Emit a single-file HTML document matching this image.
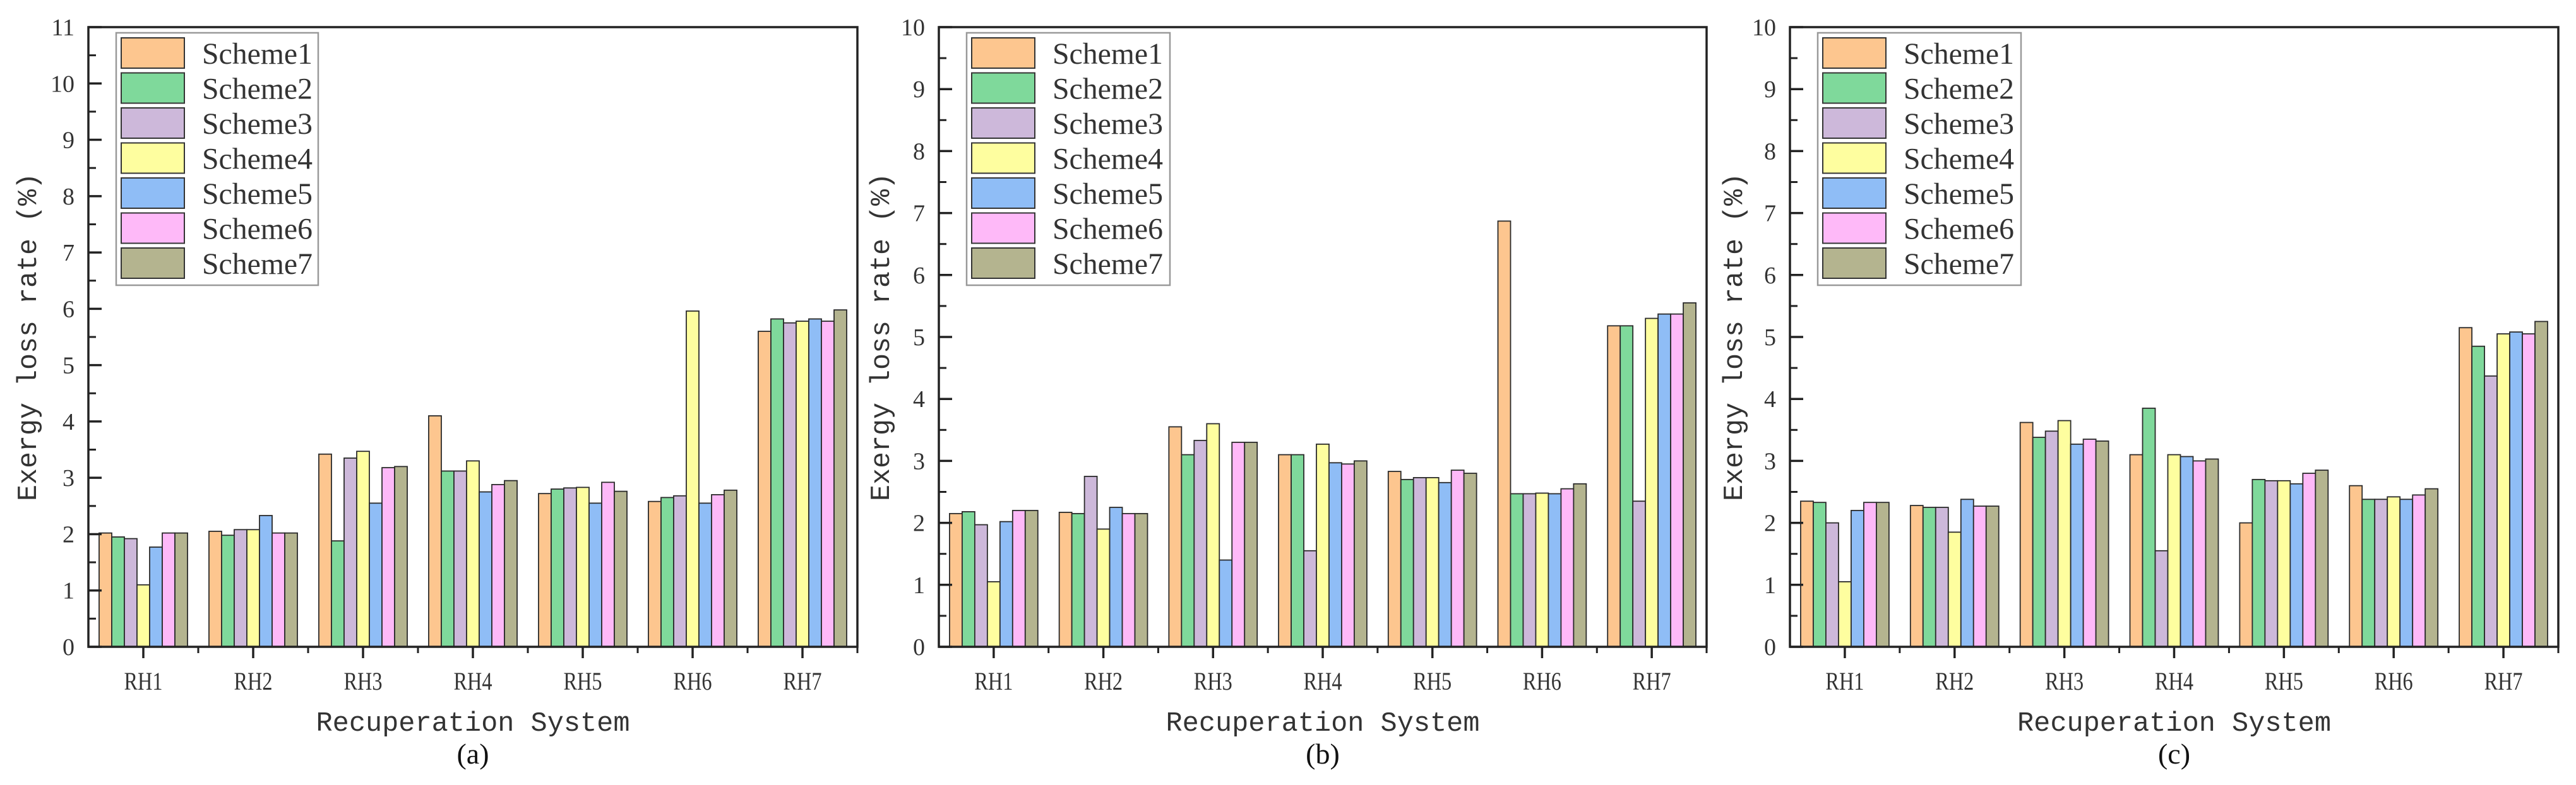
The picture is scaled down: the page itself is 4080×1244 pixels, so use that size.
<!DOCTYPE html>
<html><head><meta charset="utf-8"><style>
html,body{margin:0;padding:0;background:#fff;}
svg{display:block;}
</style></head><body>
<svg id="fig" width="4080" height="1244" viewBox="0 0 4080 1244" xmlns="http://www.w3.org/2000/svg"></svg>
<script>
const categories = ["RH1","RH2","RH3","RH4","RH5","RH6","RH7"];
const seriesNames = ["Scheme1","Scheme2","Scheme3","Scheme4","Scheme5","Scheme6","Scheme7"];
const dataA = [
 [2.02,1.95,1.92,1.10,1.77,2.02,2.02],
 [2.05,1.98,2.08,2.08,2.33,2.02,2.02],
 [3.42,1.88,3.35,3.47,2.55,3.18,3.20],
 [4.10,3.12,3.12,3.30,2.75,2.88,2.95],
 [2.72,2.80,2.82,2.83,2.55,2.92,2.76],
 [2.58,2.65,2.68,5.96,2.55,2.70,2.78],
 [5.60,5.82,5.75,5.78,5.82,5.78,5.98]
];
const dataB = [
 [2.15,2.18,1.97,1.05,2.02,2.20,2.20],
 [2.17,2.15,2.75,1.90,2.25,2.15,2.15],
 [3.55,3.10,3.33,3.60,1.40,3.30,3.30],
 [3.10,3.10,1.55,3.27,2.97,2.95,3.00],
 [2.83,2.70,2.73,2.73,2.65,2.85,2.80],
 [6.87,2.47,2.47,2.48,2.47,2.55,2.63],
 [5.18,5.18,2.35,5.30,5.37,5.37,5.55]
];
const dataC = [
 [2.35,2.33,2.00,1.05,2.20,2.33,2.33],
 [2.28,2.25,2.25,1.85,2.38,2.27,2.27],
 [3.62,3.38,3.48,3.65,3.27,3.35,3.32],
 [3.10,3.85,1.55,3.10,3.07,3.00,3.03],
 [2.00,2.70,2.68,2.68,2.63,2.80,2.85],
 [2.60,2.38,2.38,2.42,2.38,2.45,2.55],
 [5.15,4.85,4.37,5.05,5.08,5.05,5.25]
];
const yMaxA = 11, yMaxB = 10, yMaxC = 10;
const colors = ["#fdc68f","#7fd99b","#cdb8da","#fefe9f","#8fbdf6","#feb9f8","#b4b48f"];

const NS = "http://www.w3.org/2000/svg";
const svg = document.getElementById("fig");
function mk(tag, attrs, parent){const e=document.createElementNS(NS,tag);for(const k in attrs)e.setAttribute(k,attrs[k]);(parent||svg).appendChild(e);return e;}

function panel(key, data, yMax, L, R, legX, legW, titleX, label){
  const T=43, B=1025;
  const g = mk("g",{});
  
  
  const yS = v => B - v/yMax*(B-T);
  const gw = (R-L)/categories.length;
  const xC = i => L + gw*(i+0.5);
  const bw = gw*0.115;
  data.forEach((row,i)=>{
    row.forEach((v,s)=>{
      const x = xC(i) - bw*3.5 + s*bw;
      const r = mk("rect",{x:x,y:yS(v),width:bw,height:B-yS(v),fill:colors[s],stroke:"#2a2a2a","stroke-width":1.8},g);
      
      
    });
  });
  const fr = mk("rect",{x:L,y:T,width:R-L,height:B-T,fill:"none",stroke:"#222","stroke-width":3.5},g);
  
  
  for(let v=0; v<=yMax; v++){
    mk("line",{x1:L,x2:L+21,y1:yS(v),y2:yS(v),stroke:"#222","stroke-width":3.5},g);
    if(v<yMax) mk("line",{x1:L,x2:L+12,y1:yS(v+0.5),y2:yS(v+0.5),stroke:"#222","stroke-width":3},g);
    const t = mk("text",{x:L-22,y:yS(v)+13,"text-anchor":"end","font-family":"Liberation Serif, serif","font-size":38,fill:"#333"},g);
    t.textContent = v;
    
    
  }
  categories.forEach((c,i)=>{
    mk("line",{x1:xC(i),x2:xC(i),y1:B,y2:B+18,stroke:"#222","stroke-width":3.5},g);
    mk("line",{x1:L+gw*(i+1),x2:L+gw*(i+1),y1:B,y2:B+10,stroke:"#222","stroke-width":3},g);
    const t = mk("text",{x:xC(i),y:1093,"text-anchor":"middle","font-family":"Liberation Serif, serif","font-size":40,fill:"#333",textLength:61,lengthAdjust:"spacingAndGlyphs"},g);
    t.textContent = c;
    
    
  });
  const xt = mk("text",{x:(L+R)/2,y:1158,"text-anchor":"middle","font-family":"Liberation Mono, monospace","font-size":44,fill:"#333",textLength:497,lengthAdjust:"spacingAndGlyphs"},g);
  xt.textContent = "Recuperation System";
  
  
  const yt = mk("text",{x:0,y:0,"text-anchor":"middle","font-family":"Liberation Mono, monospace","font-size":44,fill:"#333",textLength:520,lengthAdjust:"spacingAndGlyphs",transform:`translate(${titleX+15},${(T+B)/2}) rotate(-90)`},g);
  yt.textContent = "Exergy loss rate (%)";
  
  
  const pl = mk("text",{x:(L+R)/2,y:1210,"text-anchor":"middle","font-family":"Liberation Serif, serif","font-size":46,fill:"#111"},g);
  pl.textContent = label;
  
  
  const lg = mk("g",{},g);
  
  
  mk("rect",{x:legX,y:52,width:legW,height:400,fill:"#fff",stroke:"#999","stroke-width":2.5},lg);
  seriesNames.forEach((n,s)=>{
    const y0 = 60 + s*55.5;
    const e = mk("g",{},lg);
    
    
    mk("rect",{x:legX+8,y:y0,width:100,height:48,fill:colors[s],stroke:"#333","stroke-width":2},e);
    const t = mk("text",{x:legX+136,y:y0+41,"font-family":"Liberation Serif, serif","font-size":48,fill:"#333",textLength:175,lengthAdjust:"spacingAndGlyphs"},e);
    t.textContent = n;
  });
}
panel("a", dataA, yMaxA, 140, 1358, 184, 320, 42, "(a)");
panel("b", dataB, yMaxB, 1487, 2703, 1531, 322, 1393, "(b)");
panel("c", dataC, yMaxC, 2835, 4052, 2879, 322, 2744, "(c)");
</script>
</body></html>
